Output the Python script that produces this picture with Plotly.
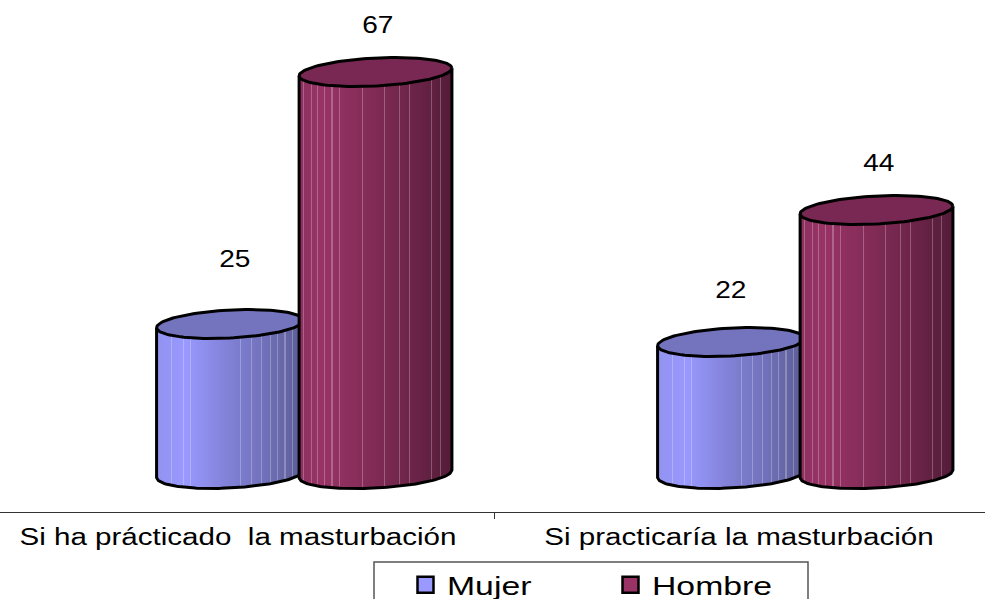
import numpy as np
import plotly.graph_objects as go

categories = ["Si ha prácticado  la masturbación", "Si practicaría la masturbación"]
mujer = [25, 22]
hombre = [67, 44]

W, H = 985, 599
FONT = "Liberation Sans"
PX_PER_X = 501.0
PX_PER_Y = 6.0
XR = [0.5 - 494 / PX_PER_X, 0.5 + 491 / PX_PER_X]
AXIS_PX, ZERO_PX = 512, 474
YR = [-(AXIS_PX - ZERO_PX) / PX_PER_Y, ZERO_PX / PX_PER_Y]
DOMY = [1 - AXIS_PX / H, 1]
SLOPE = 0.05 * PX_PER_X / PX_PER_Y
B = 14.0 / PX_PER_Y


def ramp(stops, t):
    ts = [s[0] for s in stops]
    return [float(np.interp(t, ts, [s[1][i] for s in stops])) for i in range(3)]


def hexc(c):
    return "rgb(%d,%d,%d)" % tuple(int(round(v)) for v in c)


def curve(cx, a, yc, xs, sign):
    u = (xs - cx) / a
    return yc + SLOPE * (xs - cx) + sign * B * np.sqrt(np.clip(1 - u * u, 0, 1))


def cylinder(fig, cx, width, value, stops, top_color, lines, xa, ya, lw=3):
    a = width / 2
    n = 150
    frac = (np.arange(n) + 0.5) / n
    xs = cx - a + frac * width
    colors = []
    for f in frac:
        c = ramp(stops, f)
        if any(abs(f - l) < 0.5 / n for l in lines):
            c = [v + (255 - v) * 0.25 for v in c]
        colors.append(hexc(c))
    bottom = curve(cx, a, 0, xs, -1)
    top = curve(cx, a, value, xs, 0)
    fig.add_trace(go.Bar(x=xs, y=top - bottom, base=bottom, width=width / n * 1.25,
                         marker=dict(color=colors, line_width=0), showlegend=False,
                         hoverinfo="skip", xaxis=xa, yaxis=ya))
    t = np.linspace(0, 2 * np.pi, 121)
    ex = cx + a * np.cos(t)
    ey = value + SLOPE * (ex - cx) + B * np.sin(t)
    fig.add_trace(go.Scatter(x=ex, y=ey, mode="lines", fill="toself", fillcolor=top_color,
                             line=dict(color="black", width=lw), showlegend=False,
                             hoverinfo="skip", xaxis=xa, yaxis=ya))
    fx = cx - a + np.linspace(0, 1, 81) * width
    fy = curve(cx, a, 0, fx, -1)
    ox = np.concatenate([[cx - a], fx, [cx + a]])
    oy = np.concatenate([[value - SLOPE * a], fy, [value + SLOPE * a]])
    fig.add_trace(go.Scatter(x=ox, y=oy, mode="lines", line=dict(color="black", width=lw),
                             showlegend=False, hoverinfo="skip", xaxis=xa, yaxis=ya))


M_STOPS = [(0, (146, 146, 240)), (0.2, (153, 153, 255)), (0.45, (132, 132, 220)),
           (0.75, (112, 112, 185)), (1, (92, 92, 150))]
H_STOPS = [(0, (140, 48, 96)), (0.15, (153, 51, 102)), (0.45, (132, 44, 88)),
           (0.75, (108, 36, 72)), (1, (84, 28, 56))]
M_LINES = [0.06, 0.10, 0.19, 0.24, 0.58, 0.65, 0.72, 0.78, 0.83, 0.88, 0.93]
H_LINES = [0.03, 0.08, 0.125, 0.17, 0.22, 0.27, 0.42, 0.56, 0.66, 0.725, 0.87, 0.93]

M_OFF, M_W = -0.027, 0.293
H_OFF, H_W = 0.2635, 0.305

fig = go.Figure()
for i, v in enumerate(mujer):
    cylinder(fig, i + M_OFF, M_W, v, M_STOPS, "rgb(115,115,190)", M_LINES, "x", "y")
for i, v in enumerate(hombre):
    cylinder(fig, i + H_OFF, H_W, v, H_STOPS, "rgb(120,40,82)", H_LINES, "x2", "y2")

for name, col in [("Mujer", "#9999FF"), ("Hombre", "#993366")]:
    fig.add_trace(go.Scatter(x=[None], y=[None], mode="markers", name=name,
                             marker=dict(symbol="square", size=16, color=col,
                                         line=dict(color="black", width=2.5))))

label_shift = {"m": [(5, 65), (0, 52)], "h": [(2, 47), (2, 47)]}
anns = []
for i, (v, (dx, dy)) in enumerate(zip(mujer, label_shift["m"])):
    anns.append(dict(x=i + M_OFF, y=v, text=str(v), xshift=dx, yshift=dy, showarrow=False,
                     xref="x", yref="y"))
for i, (v, (dx, dy)) in enumerate(zip(hombre, label_shift["h"])):
    anns.append(dict(x=i + H_OFF, y=v, text=str(v), xshift=dx, yshift=dy, showarrow=False,
                     xref="x", yref="y"))

fig.update_layout(
    width=W, height=H, margin=dict(l=0, r=0, t=0, b=0, autoexpand=False), autosize=False,
    paper_bgcolor="white", plot_bgcolor="white", barmode="overlay",
    font=dict(family=FONT, size=23, color="black"),
    annotations=anns,
    shapes=[dict(type="rect", xref="paper", yref="paper", x0=374 / W, x1=808 / W,
                 y0=-0.02, y1=1 - 562 / H, line=dict(color="#555", width=1.5),
                 fillcolor="white", layer="below")],
    xaxis=dict(range=XR, showgrid=False, zeroline=False, showline=True, linecolor="#333",
               linewidth=1, tickmode="array", tickvals=[-0.011, 0.989], ticktext=categories,
               ticks="", tickfont=dict(size=23), ticklabelstandoff=4,
               minor=dict(tickmode="array", tickvals=[0.5], ticks="outside", ticklen=6,
                          tickcolor="#333", tickwidth=1)),
    yaxis=dict(range=YR, domain=DOMY, visible=False),
    xaxis2=dict(range=XR, overlaying="x", visible=False, anchor="y2"),
    yaxis2=dict(range=YR, domain=DOMY, overlaying="y", visible=False, anchor="x2"),
    legend=dict(orientation="h", x=374 / W, xanchor="left", y=1 - 562 / H, yanchor="top",
                borderwidth=0, bgcolor="rgba(0,0,0,0)", font=dict(size=25),
                itemwidth=33, entrywidth=127, entrywidthmode="pixels", indentation=30,
                traceorder="normal"),
)

STRETCH = """
document.body.style.margin = '0';
[['.xtick text', 1.285], ['.annotation-text', 1.22], ['.legendtext', 1.35]].forEach(function (p) {
  document.querySelectorAll(p[0]).forEach(function (t) {
    var w = t.getComputedTextLength();
    t.setAttribute('textLength', w * p[1]);
    t.setAttribute('lengthAdjust', 'spacingAndGlyphs');
  });
});
"""
fig.write_html("out.html", post_script=STRETCH, config={"displayModeBar": False})
